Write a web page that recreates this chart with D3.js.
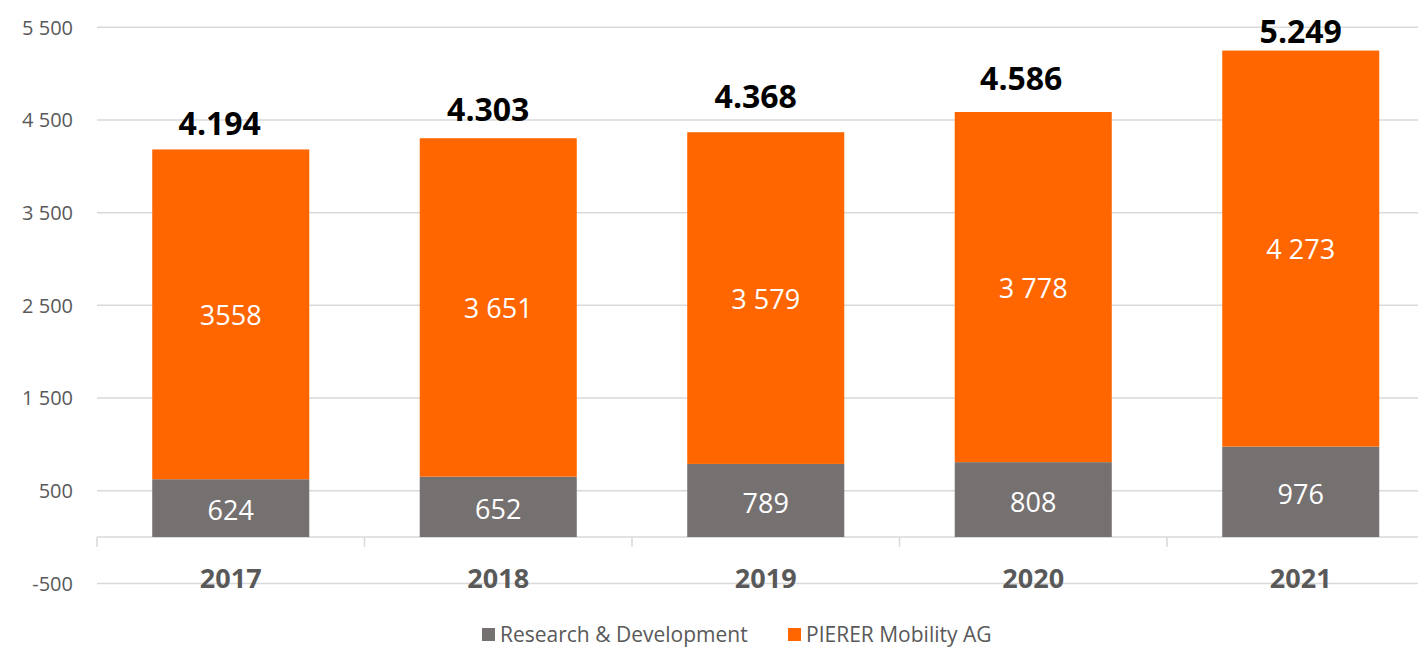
<!DOCTYPE html>
<html lang="en">
<head>
  <meta charset="UTF-8" />
  <title>PIERER Mobility R&D staff</title>
  <script src="https://d3js.org/d3.v7.min.js"></script>
  <style>
    body { margin: 0; background: #fff; }
    svg { display: block; font-family: "Open Sans", sans-serif; }
  </style>
</head>
<body>
  <svg id="chart" width="1418" height="647"></svg>
  <script>
    const years = ["2017", "2018", "2019", "2020", "2021"];
    const rdValues = [624, 652, 789, 808, 976];
    const pierValues = [3558, 3651, 3579, 3778, 4273];
    const rdLabels = ["624", "652", "789", "808", "976"];
    const pierLabels = ["3558", "3 651", "3 579", "3 778", "4 273"];
    const totalLabels = ["4.194", "4.303", "4.368", "4.586", "5.249"];
    const yTicks = [-500, 500, 1500, 2500, 3500, 4500, 5500];
    const seriesNames = ["Research & Development", "PIERER Mobility AG"];

    // total labels were placed by hand in the original: [dx, gap above bar]
    const totalNudge = [[-11, 14], [-10, 17.5], [-10, 24], [-12, 22], [0, 7.5]];

    const colors = { rd: "#767171", pier: "#ff6600" };
    const textGrey = "#595959";

    const svg = d3.select("#chart");

    const x = d3.scaleBand()
      .domain(years)
      .range([97, 1434.5])
      .paddingInner(0.413)
      .paddingOuter(0.2065);

    const y = d3.scaleLinear()
      .domain([-500, 5500])
      .range([583.4, 27.3]);

    // gridlines
    svg.append("g")
      .selectAll("line")
      .data(yTicks)
      .join("line")
      .attr("x1", 97)
      .attr("x2", 1434.5)
      .attr("y1", d => y(d))
      .attr("y2", d => y(d))
      .attr("stroke", "#d9d9d9")
      .attr("stroke-width", 1.5);

    // y labels
    svg.append("g")
      .selectAll("text")
      .data(yTicks)
      .join("text")
      .attr("x", 73)
      .attr("y", d => y(d))
      .attr("dy", "0.36em")
      .attr("text-anchor", "end")
      .attr("font-size", 20)
      .attr("fill", textGrey)
      .text(d => d3.format(",")(d).replace(",", " ").replace("\u2212", "-"));

    // category axis at zero
    const axisY = y(0);
    svg.append("line")
      .attr("x1", 97).attr("x2", 1434.5)
      .attr("y1", axisY).attr("y2", axisY)
      .attr("stroke", "#d9d9d9").attr("stroke-width", 1.5);

    const step = x.step();
    svg.append("g")
      .selectAll("line")
      .data(d3.range(years.length + 1))
      .join("line")
      .attr("x1", i => 97 + i * step)
      .attr("x2", i => 97 + i * step)
      .attr("y1", axisY)
      .attr("y2", axisY + 10)
      .attr("stroke", "#d9d9d9")
      .attr("stroke-width", 1.5);

    // stacked bars
    const rows = years.map((yr, i) => ({ year: yr, rd: rdValues[i], pier: pierValues[i], i }));
    const stack = d3.stack().keys(["rd", "pier"]);
    const layers = stack(rows);

    svg.append("g")
      .selectAll("g")
      .data(layers)
      .join("g")
      .attr("fill", d => colors[d.key])
      .selectAll("rect")
      .data(d => d)
      .join("rect")
      .attr("x", d => x(d.data.year))
      .attr("width", x.bandwidth())
      .attr("y", d => y(d[1]))
      .attr("height", d => y(d[0]) - y(d[1]));

    // segment labels
    const segLabels = { rd: rdLabels, pier: pierLabels };
    const segShift = { rd: 2.5, pier: 1 };
    layers.forEach(layer => {
      svg.append("g")
        .selectAll("text")
        .data(layer)
        .join("text")
        .attr("x", d => x(d.data.year) + x.bandwidth() / 2)
        .attr("y", d => (y(d[0]) + y(d[1])) / 2 + segShift[layer.key])
        .attr("dy", "0.36em")
        .attr("text-anchor", "middle")
        .attr("font-size", 27)
        .attr("fill", "#fff")
        .text(d => segLabels[layer.key][d.data.i]);
    });

    // totals
    const topLayer = layers[layers.length - 1];
    svg.append("g")
      .selectAll("text")
      .data(topLayer)
      .join("text")
      .attr("x", d => x(d.data.year) + x.bandwidth() / 2 + totalNudge[d.data.i][0])
      .attr("y", d => y(d[1]) - totalNudge[d.data.i][1])
      .attr("text-anchor", "middle")
      .attr("font-size", 32)
      .attr("font-weight", "bold")
      .attr("fill", "#000")
      .text(d => totalLabels[d.data.i]);

    // category labels
    svg.append("g")
      .selectAll("text")
      .data(years)
      .join("text")
      .attr("x", d => x(d) + x.bandwidth() / 2)
      .attr("y", 588)
      .attr("text-anchor", "middle")
      .attr("font-size", 27)
      .attr("font-weight", "bold")
      .attr("fill", textGrey)
      .text(d => d);

    // legend
    const legendItems = [
      { name: seriesNames[0], color: colors.rd, x: 482 },
      { name: seriesNames[1], color: colors.pier, x: 788 }
    ];
    const lg = svg.append("g").selectAll("g")
      .data(legendItems)
      .join("g")
      .attr("transform", d => `translate(${d.x},628)`);
    lg.append("rect")
      .attr("width", 13).attr("height", 13)
      .attr("fill", d => d.color);
    lg.append("text")
      .attr("x", 18)
      .attr("y", 13.5)
      .attr("font-size", 21)
      .attr("fill", textGrey)
      .text(d => d.name);
  </script>
</body>
</html>
